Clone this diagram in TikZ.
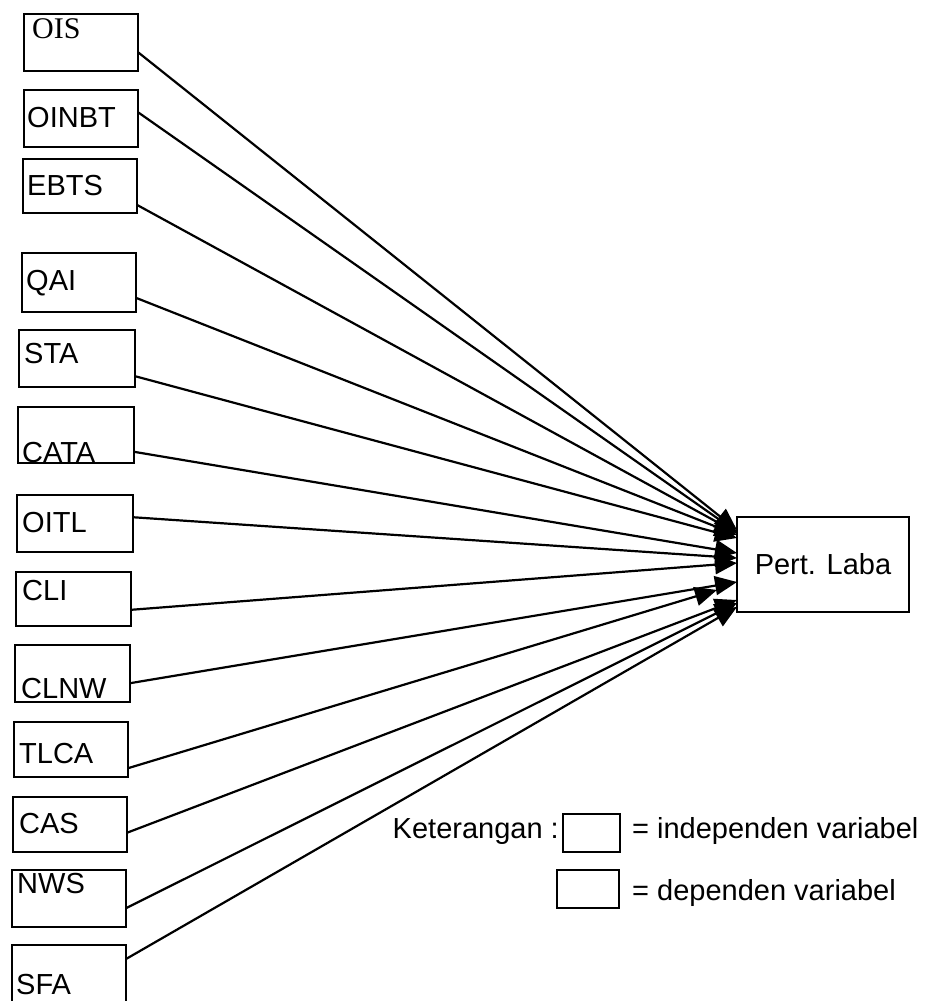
\documentclass[tikz,border=0pt]{standalone}
\usepackage{fontspec}
\setmainfont{Liberation Sans}
\newfontfamily\serifface{Liberation Serif}
\usetikzlibrary{arrows.meta,calc}
\begin{document}
\begin{tikzpicture}[x=1pt,y=-1pt,
  varbox/.style={draw,line width=1.6pt,inner sep=0pt,outer sep=0pt,anchor=north west},
  lbl/.style={anchor=base west,inner sep=0pt,font=\fontsize{29}{30}\selectfont},
  conn/.style={line width=2.2pt,-{Triangle[length=22pt,width=19pt]}}]
\useasboundingbox[fill=white] (0,0) rectangle (924,1001);
% dependent variable
\node[varbox,minimum width=172pt,minimum height=95pt,font=\fontsize{29}{30}\selectfont] (pl) at (737,517) {Pert. Laba};
% independent variables
\foreach \n/\x/\y/\w/\h/\tx/\ty/\s/\f/\t/\dx in {
  ois/24/14/114/57/32/38/{\serifface\fontsize{30}{31}\selectfont OIS}/0.67/0.137/0,
  oinbt/24/90/114/57/27/127/OINBT/0.39/0.158/0,
  ebts/23/159/114/54/27/195/EBTS/0.85/0.168/0,
  qai/22/253/114/59/26/290/QAI/0.76/0.189/0,
  sta/19/330/116/57/24/363/STA/0.81/0.221/0,
  cata/18/407/116/56/22/462/CATA/0.80/0.379/0,
  oitl/17/495/116/57/22/532/OITL/0.39/0.432/0,
  cli/16/572/115/54/22/600/CLI/0.70/0.484/0,
  clnw/15/645/115/57/21/698/CLNW/0.67/0.684/0,
  tlca/14/722/114/55/19/763/TLCA/0.84/0.768/-20,
  cas/13/797/114/55/19/833/CAS/0.65/0.874/0,
  nws/12/870/114/57/17/893/NWS/0.67/0.905/0,
  sfa/12/945/114/70/16/994/SFA/0.2/0.947/0}{
  \node[varbox,minimum width=\w pt,minimum height=\h pt] (\n) at (\x,\y) {};
  \node[lbl] (\n-t) at (\tx,\ty) {\s};
  \draw[conn] ($(\n.north east)!\f!(\n.south east)$) -- ($(pl.north west)!\t!(pl.south west)+(\dx,0)$);
}
% legend
\node[lbl,anchor=base east] (ket) at (559,838) {Keterangan :};
\node[varbox,minimum width=57pt,minimum height=38pt] (leg1) at (563,814) {};
\node[lbl] (leg1-t) at (632,838) {= independen variabel};
\node[varbox,minimum width=62pt,minimum height=38pt] (leg2) at (557,870) {};
\node[lbl] (leg2-t) at (632,900) {= dependen variabel};
\end{tikzpicture}
\end{document}
